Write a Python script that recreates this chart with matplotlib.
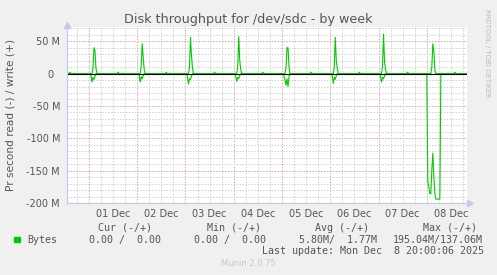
import numpy as np
import matplotlib.pyplot as plt

# time axis: hours since 01 Dec 00:00, throughput in MB/s
day_labels = ["01 Dec", "02 Dec", "03 Dec", "04 Dec", "05 Dec", "06 Dec", "07 Dec", "08 Dec"]
t_start, t_end = -10.9, 188.0

write_hours = [-10.9, -10, -9.5, -9,
               1.5, 2, 2.5, 3, 3.5, 4, 14, 14.5, 15,
               25.5, 26, 26.5, 27, 27.5, 28, 38, 38.5, 39,
               49.5, 50, 50.5, 51, 51.5, 52, 62, 62.5, 63,
               73.5, 74, 74.5, 75, 75.5, 76, 86, 86.5, 87,
               97.5, 98, 98.5, 99, 99.5, 100, 110, 110.5, 111,
               121.5, 122, 122.5, 123, 123.5, 124, 134, 134.5, 135,
               145.5, 146, 146.5, 147, 147.5, 148, 158, 158.5, 159,
               170, 170.5, 171, 171.5, 172, 172.5, 181.5, 182, 182.5,
               188]
write_mb = [0, 0, 2.2, 0,
            0, 8, 40, 36, 8, 0, 0, 2.2, 0,
            0, 12, 46, 25, 6, 0, 0, 2.2, 0,
            0, 10, 56, 28, 8, 0, 0, 2.2, 0,
            0, 12, 57, 20, 6, 0, 0, 2.2, 0,
            0, 10, 40, 40, 10, 0, 0, 2.2, 0,
            0, 10, 56, 20, 8, 0, 0, 2.2, 0,
            0, 12, 61, 18, 6, 0, 0, 2.2, 0,
            0, 10, 46, 35, 5, 0, 0, 2.2, 0,
            0]

read_hours = [-10.9, -2, -1.5, -1,
              0.5, 1, 1.5, 2, 2.5, 3, 3.5, 22, 22.5, 23,
              24.5, 25, 25.5, 26, 26.5, 27, 27.5, 46, 46.5, 47,
              48.5, 49, 49.5, 50, 50.5, 51, 51.5, 70, 70.5, 71,
              72.5, 73, 73.5, 74, 74.5, 75, 75.5, 94, 94.5, 95,
              96.5, 97, 97.5, 98, 98.5, 99, 99.5, 100, 118, 118.5, 119,
              120.5, 121, 121.5, 122, 122.5, 123, 123.5, 142, 142.5, 143,
              144.5, 145, 145.5, 146, 146.5, 147, 147.5, 165.5, 166, 166.5,
              168, 168.5, 169, 169.5, 170, 170.5, 171, 171.5, 172, 172.5, 173, 173.5, 174, 174.5, 175,
              188]
read_mb = [0, 0, 1.2, 0,
           0, 3, 13, 6, 9, 4, 0, 0, 1.2, 0,
           0, 3, 13, 5, 8, 3, 0, 0, 1.2, 0,
           0, 5, 16, 8, 9, 4, 0, 0, 1.2, 0,
           0, 4, 12, 6, 8, 3, 0, 0, 1.2, 0,
           0, 4, 10, 18, 8, 20, 5, 0, 0, 1.2, 0,
           0, 4, 15, 6, 9, 3, 0, 0, 1.2, 0,
           0, 4, 13, 6, 8, 3, 0, 0, 1.2, 0,
           0, 167, 174, 185, 186, 150, 123, 158, 185, 194, 194, 194, 194, 194, 0,
           0]

y_ticks = [-200, -150, -100, -50, 0, 50]
y_tick_labels = ["-200 M", "-150 M", "-100 M", "-50 M", "0  ", "50 M"]

W, H = 497, 275
fig = plt.figure(figsize=(W / 100, H / 100), dpi=100, facecolor="#F0F0F0")
ax = fig.add_axes([67 / W, 72 / H, 400 / W, 176 / H])
ax.set_facecolor("white")
ax.set_xlim(t_start, t_end)
ax.set_ylim(-200, 72)

# grid: minor every 6 h / 10 M, major every day / 50 M
dot = (0, (1.5, 1.5))
for h in np.arange(-6, t_end, 6):
    if h % 24 == 0:
        ax.axvline(h, color="#E8A0A0", lw=0.7, ls=dot, zorder=1)
    else:
        ax.axvline(h, color="#D0D0D0", lw=0.7, ls=dot, zorder=1)
for v in np.arange(-190, 72, 10):
    if v % 50 == 0:
        ax.axhline(v, color="#E8A0A0", lw=0.7, ls=dot, zorder=1)
    else:
        ax.axhline(v, color="#D0D0D0", lw=0.7, ls=dot, zorder=1)

ax.plot(write_hours, write_mb, color="#00CC00", lw=0.8, zorder=3)
ax.plot(read_hours, [-v for v in read_mb], color="#00CC00", lw=0.8, zorder=3)
ax.axhline(0, color="black", lw=0.8, zorder=4)

for s in ax.spines.values():
    s.set_visible(False)
axis_col = "#C4C8F4"
ax.plot([t_start, t_end], [-200, -200], color=axis_col, lw=0.8, clip_on=False, zorder=5)
ax.plot([t_start, t_start], [-200, 72], color=axis_col, lw=0.8, clip_on=False, zorder=5)
ax.plot([t_end + 1.5], [-200], marker=">", ms=4, color=axis_col, clip_on=False, zorder=5)
ax.plot([t_start], [75], marker="^", ms=4, color=axis_col, clip_on=False, zorder=5)

ax.set_xticks([12 + 24 * i for i in range(len(day_labels))])
ax.set_xticklabels(day_labels)
ax.set_yticks(y_ticks)
ax.set_yticklabels(y_tick_labels)
ax.tick_params(length=0, labelsize=7, colors="#555555")
ax.tick_params(axis="x", pad=4)
ax.tick_params(axis="y", pad=5)

def px(x, y):
    return x / W, 1 - y / H

txt = "#555555"
fig.text(*px(248, 19), "Disk throughput for /dev/sdc - by week", ha="center", va="center",
         fontsize=9.2, color=txt)
fig.text(*px(11, 115), "Pr second read (-) / write (+)", ha="center", va="center",
         rotation=90, fontsize=7.6, color=txt)
fig.text(*px(487, 53), "RRDTOOL / TOBI OETIKER", ha="center", va="center",
         rotation=270, fontsize=5, color="#BBBBBB")

mono = dict(family="DejaVu Sans Mono", fontsize=7.2, color=txt, va="center")
fig.text(*px(98, 228), "Cur (-/+)", **mono)
fig.text(*px(207, 228), "Min (-/+)", **mono)
fig.text(*px(315, 228), "Avg (-/+)", **mono)
fig.text(*px(423, 228), "Max (-/+)", **mono)
fig.patches.append(plt.Rectangle(px(14, 242), 6 / W, 5 / H, color="#00CC00",
                                 transform=fig.transFigure, figure=fig))
fig.text(*px(27, 240), "Bytes", **mono)
fig.text(*px(89, 240), "0.00 /  0.00", **mono)
fig.text(*px(194, 240), "0.00 /  0.00", **mono)
fig.text(*px(299, 240), "5.80M/  1.77M", **mono)
fig.text(*px(393, 240), "195.04M/137.06M", **mono)
fig.text(*px(262, 251), "Last update: Mon Dec  8 20:00:06 2025", **mono)
fig.text(*px(248, 264), "Munin 2.0.75", ha="center", va="center", fontsize=6, color="#C8C8C8")

fig.savefig("out.png", dpi=100, facecolor="#F0F0F0")
